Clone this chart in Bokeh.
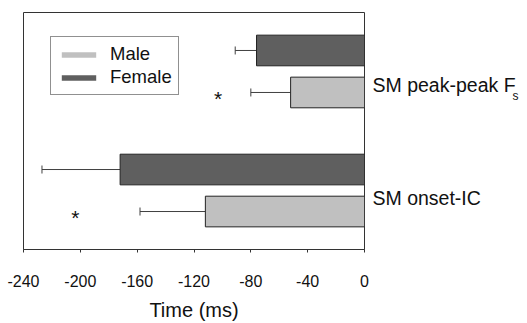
from bokeh.plotting import figure
from bokeh.models import (Range1d, Whisker, TeeHead, ColumnDataSource,
                          Legend, LegendItem, LinearAxis, FixedTicker)
from bokeh.embed import file_html
from bokeh.resources import INLINE
from bokeh.core.properties import value

# ---- data ----
measures = ["SM onset-IC", "SM peak-peak Fs"]      # bottom group first
sexes = ["Male", "Female"]
male_mean = [-112, -52]
male_err = [46, 28]
female_mean = [-172, -76]
female_err = [55, 15]
star_x = [-203.5, -103]                              # significance markers (Male bars)
x_ticks = [-240, -200, -160, -120, -80, -40, 0]
x_tick_labels = ["-240", "-200", "-160", "-120", "-80", "-40", "0"]
group_labels = ["SM onset-IC", "SM peak-peak F"]
subscript_label = "s"

MALE = "#c0c0c0"
FEMALE = "#5f5f5f"
FONT = "Liberation Sans"
INK = "#111111"

# categorical layout -> numeric positions (one unit per bar, gap between groups)
GROUP_GAP = 0.834
PAD = 0.404
group_span = len(sexes) + GROUP_GAP
total = len(measures) * len(sexes) + (len(measures) - 1) * GROUP_GAP
FRAME_H = 239
PX = FRAME_H / (total + 2 * PAD)          # pixels per unit


def pos(g, k):
    return g * group_span + k + 0.5


p = figure(width=527, height=323,
           y_range=Range1d(-PAD, total + PAD),
           x_range=Range1d(-240, 0),
           y_axis_location=None,
           min_border_left=23, min_border_top=12, min_border_right=163, min_border_bottom=72,
           output_backend="svg", toolbar_location=None)
p.grid.visible = False
p.outline_line_color = "#333333"
p.outline_line_width = 1

src_m = ColumnDataSource(dict(y=[pos(g, 0) for g in range(len(measures))], right=male_mean,
                              lower=[v - e for v, e in zip(male_mean, male_err)]))
src_f = ColumnDataSource(dict(y=[pos(g, 1) for g in range(len(measures))], right=female_mean,
                              lower=[v - e for v, e in zip(female_mean, female_err)]))

BAR_H = 0.73
for src in (src_m, src_f):
    p.add_layout(Whisker(source=src, base="y", lower="lower", upper="right",
                         dimension="width", upper_head=None,
                         lower_head=TeeHead(size=8, line_color="#404040", line_width=1),
                         line_color="#404040", line_width=1))

r_m = p.hbar(y="y", left=0, right="right", height=BAR_H, source=src_m,
             fill_color=MALE, line_color=None)
r_f = p.hbar(y="y", left=0, right="right", height=BAR_H, source=src_f,
             fill_color=FEMALE, line_color=None)
for src in (src_m, src_f):
    p.hbar(y="y", left=0, right="right", height=BAR_H, source=src,
           fill_color=None, line_color="#222222", line_width=1)

# significance stars
p.text(x=star_x, y=[pos(g, 0) for g in range(len(measures))], text=["*", "*"],
       text_font=value(FONT), text_font_size="21px", text_align="center",
       text_baseline="middle", text_color=INK, y_offset=6)

# category labels on the right (right-side axes, ticks hidden)
label_px_above_male = [13.5, 7.5]
label_y = [pos(g, 0) + off / PX for g, off in enumerate(label_px_above_male)]
sub_y = label_y[1] - 11 / PX


def side_axis(ticks, labels, size, standoff):
    a = LinearAxis(ticker=FixedTicker(ticks=ticks),
                   major_label_overrides={t: l for t, l in zip(ticks, labels)})
    a.axis_line_color = None
    a.major_tick_line_color = None
    a.minor_tick_line_color = None
    a.major_tick_in = 0
    a.major_tick_out = 0
    a.minor_tick_in = 0
    a.minor_tick_out = 0
    a.major_label_standoff = standoff
    a.major_label_text_font = FONT
    a.major_label_text_font_size = size
    a.major_label_text_color = INK
    return a


p.add_layout(side_axis(label_y, group_labels, "19.5px", 8), "right")
p.add_layout(side_axis([sub_y], [subscript_label], "12px", -6), "right")

# x axis
ax = p.xaxis[0]
ax.ticker = FixedTicker(ticks=x_ticks)
ax.major_label_overrides = {t: l for t, l in zip(x_ticks, x_tick_labels)}
ax.major_label_text_font = FONT
ax.major_label_text_font_size = "16px"
ax.major_label_text_color = INK
ax.major_label_standoff = 22
ax.major_tick_in = 0
ax.major_tick_out = 3
ax.minor_tick_in = 0
ax.minor_tick_out = 0
ax.axis_line_color = "#333333"
ax.major_tick_line_color = "#333333"
ax.axis_label = "Time (ms)"
ax.axis_label_text_font = FONT
ax.axis_label_text_font_size = "20px"
ax.axis_label_text_font_style = "normal"
ax.axis_label_text_color = INK
ax.axis_label_standoff = 9

legend = Legend(items=[LegendItem(label="Male", renderers=[r_m]),
                       LegendItem(label="Female", renderers=[r_f])],
                location=(27, 154), orientation="vertical",
                border_line_color="#222222", border_line_width=1,
                background_fill_color="white", background_fill_alpha=1,
                padding=6, spacing=1, margin=0,
                glyph_width=43, glyph_height=7, label_height=22, label_standoff=10,
                label_text_font=FONT, label_text_font_size="18.5px",
                label_text_color=INK)
p.add_layout(legend)

open("out.html", "w").write(file_html(p, INLINE))
